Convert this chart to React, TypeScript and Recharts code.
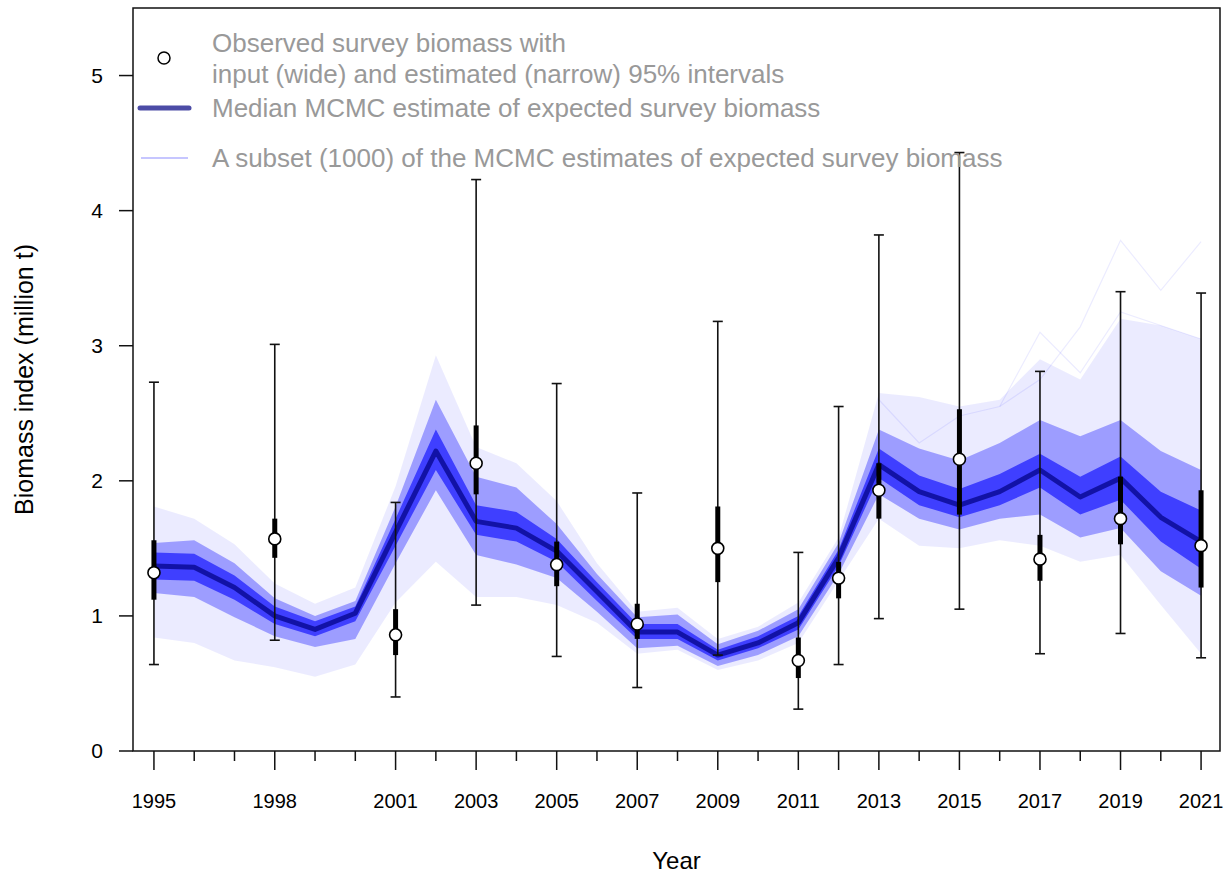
import { ComposedChart, Area, Line, Scatter, ErrorBar, XAxis, YAxis, ReferenceArea, Legend } from 'recharts';

// MCMC estimates of expected survey biomass (million t), one value per year
const YEARS = [1995, 1996, 1997, 1998, 1999, 2000, 2001, 2002, 2003, 2004, 2005, 2006, 2007, 2008, 2009, 2010, 2011, 2012, 2013, 2014, 2015, 2016, 2017, 2018, 2019, 2020, 2021];
const MEDIAN = [1.37, 1.36, 1.21, 1.0, 0.9, 1.02, 1.62, 2.22, 1.7, 1.65, 1.48, 1.18, 0.88, 0.88, 0.71, 0.8, 0.95, 1.43, 2.12, 1.92, 1.82, 1.92, 2.08, 1.88, 2.02, 1.73, 1.55];
// dense core of the trace cloud
const INNER_LO = [1.27, 1.26, 1.12, 0.94, 0.85, 0.96, 1.52, 2.08, 1.6, 1.55, 1.4, 1.11, 0.83, 0.83, 0.67, 0.76, 0.9, 1.37, 2.02, 1.82, 1.73, 1.82, 1.95, 1.75, 1.86, 1.55, 1.35];
const INNER_HI = [1.47, 1.46, 1.3, 1.07, 0.96, 1.07, 1.72, 2.38, 1.82, 1.77, 1.57, 1.25, 0.94, 0.94, 0.75, 0.85, 1.0, 1.49, 2.24, 2.04, 1.94, 2.05, 2.2, 2.03, 2.18, 1.92, 1.78];
// most of the traces
const MID_LO = [1.17, 1.14, 0.99, 0.85, 0.77, 0.83, 1.39, 1.93, 1.45, 1.38, 1.28, 1.03, 0.76, 0.78, 0.63, 0.71, 0.85, 1.31, 1.9, 1.72, 1.64, 1.72, 1.75, 1.58, 1.65, 1.33, 1.15];
const MID_HI = [1.54, 1.56, 1.39, 1.13, 1.0, 1.11, 1.81, 2.6, 2.03, 1.95, 1.68, 1.31, 0.99, 1.01, 0.79, 0.89, 1.05, 1.54, 2.38, 2.24, 2.15, 2.28, 2.45, 2.33, 2.45, 2.22, 2.08];
// faint outer traces
const OUTER_LO = [0.84, 0.8, 0.67, 0.62, 0.55, 0.64, 1.1, 1.4, 1.14, 1.14, 1.08, 0.95, 0.72, 0.75, 0.6, 0.67, 0.8, 1.26, 1.72, 1.52, 1.5, 1.56, 1.52, 1.4, 1.45, 1.08, 0.72];
const OUTER_HI = [1.81, 1.72, 1.53, 1.24, 1.09, 1.21, 1.96, 2.93, 2.25, 2.13, 1.85, 1.39, 1.03, 1.06, 0.83, 0.92, 1.1, 1.58, 2.65, 2.62, 2.55, 2.6, 2.9, 2.75, 3.2, 3.15, 3.05];
// two stray traces visible at the top right
const TRACE_A = [null, null, null, null, null, null, null, null, null, null, null, null, null, null, null, null, null, null, 2.6, 2.28, 2.48, 2.55, 2.75, 3.14, 3.78, 3.41, 3.77];
const TRACE_B = [null, null, null, null, null, null, null, null, null, null, null, null, null, null, null, null, null, null, null, null, null, 2.55, 3.1, 2.8, 3.25, 3.15, 3.05];

// observed survey biomass with 95% intervals
const SURVEY_YEARS = [1995, 1998, 2001, 2003, 2005, 2007, 2009, 2011, 2012, 2013, 2015, 2017, 2019, 2021];
const SURVEY_OBS = [1.32, 1.57, 0.86, 2.13, 1.38, 0.94, 1.5, 0.67, 1.28, 1.93, 2.16, 1.42, 1.72, 1.52];
const WIDE_LO = [0.64, 0.82, 0.4, 1.08, 0.7, 0.47, 0.71, 0.31, 0.64, 0.98, 1.05, 0.72, 0.87, 0.69];
const WIDE_HI = [2.73, 3.01, 1.84, 4.23, 2.72, 1.91, 3.18, 1.47, 2.55, 3.82, 4.43, 2.81, 3.4, 3.39];
const NARROW_LO = [1.12, 1.43, 0.71, 1.9, 1.22, 0.83, 1.25, 0.54, 1.13, 1.72, 1.75, 1.26, 1.53, 1.21];
const NARROW_HI = [1.56, 1.72, 1.05, 2.41, 1.55, 1.09, 1.81, 0.84, 1.4, 2.13, 2.53, 1.6, 2.03, 1.93];

const LABEL_YEARS = [1995, 1998, 2001, 2003, 2005, 2007, 2009, 2011, 2013, 2015, 2017, 2019, 2021];
const Y_TICKS = [0, 1, 2, 3, 4, 5];

const X_DOMAIN = [1994.48, 2021.47];
const Y_DOMAIN = [0, 5.5];

const mcmc = YEARS.map((year, i) => ({
  year,
  median: MEDIAN[i],
  inner: [INNER_LO[i], INNER_HI[i]],
  mid: [MID_LO[i], MID_HI[i]],
  outer: [OUTER_LO[i], OUTER_HI[i]],
  traceA: TRACE_A[i],
  traceB: TRACE_B[i],
}));

const survey = SURVEY_YEARS.map((year, i) => ({
  year,
  obs: SURVEY_OBS[i],
  wideErr: [SURVEY_OBS[i] - WIDE_LO[i], WIDE_HI[i] - SURVEY_OBS[i]],
  narrowErr: [SURVEY_OBS[i] - NARROW_LO[i], NARROW_HI[i] - SURVEY_OBS[i]],
}));

const INK = '#111';

function YearTick({ x, y, payload }: any) {
  const yr = payload.value;
  const long = SURVEY_YEARS.includes(yr);
  return (
    <g>
      <line x1={x} x2={x} y1={y} y2={y + (long ? 19 : 10)} stroke={INK} strokeWidth={1.5} />
      {LABEL_YEARS.includes(yr) && (
        <text x={x} y={y + 57} textAnchor="middle" fontSize={20} fill="#000">{yr}</text>
      )}
    </g>
  );
}

function ValueTick({ x, y, payload }: any) {
  return (
    <g>
      <line x1={x - 14} x2={x} y1={y} y2={y} stroke={INK} strokeWidth={1.5} />
      <text x={x - 30} y={y + 7} textAnchor="end" fontSize={21} fill="#000">{payload.value}</text>
    </g>
  );
}

function LegendBox() {
  const grey = '#999';
  return (
    <svg width={1030} height={180} style={{ display: 'block' }}>
      <circle cx={164} cy={58} r={6} fill="none" stroke="#000" strokeWidth={1.5} />
      <line x1={140} x2={189} y1={108} y2={108} stroke="#000080" strokeOpacity={0.7} strokeWidth={5} strokeLinecap="round" />
      <line x1={141} x2={188} y1={158} y2={158} stroke="#0000ff" strokeOpacity={0.45} strokeWidth={1.2} />
      <g fontSize={26} fill={grey}>
        <text x={212} y={52}>Observed survey biomass with</text>
        <text x={212} y={83}>input (wide) and estimated (narrow) 95% intervals</text>
        <text x={212} y={117}>Median MCMC estimate of expected survey biomass</text>
        <text x={212} y={167}>A subset (1000) of the MCMC estimates of expected survey biomass</text>
      </g>
    </svg>
  );
}

export default function App() {
  return (
    <div style={{ position: 'absolute', left: 0, top: 0, fontFamily: '"Liberation Sans", Arial, sans-serif' }}>
      <ComposedChart width={1229} height={875} data={mcmc} margin={{ top: 8, right: 9, bottom: 0, left: 0 }}>
        <XAxis
          dataKey="year"
          type="number"
          domain={X_DOMAIN}
          allowDataOverflow
          ticks={YEARS}
          interval={0}
          tick={<YearTick />}
          tickSize={0}
          tickMargin={0}
          axisLine={false}
          tickLine={false}
          height={124}
          label={{ value: 'Year', position: 'insideBottom', offset: 6, fontSize: 24, fill: '#000' }}
        />
        <YAxis
          type="number"
          domain={Y_DOMAIN}
          allowDataOverflow
          ticks={Y_TICKS}
          interval={0}
          tick={<ValueTick />}
          tickSize={0}
          tickMargin={0}
          axisLine={false}
          tickLine={false}
          width={133}
          label={{ value: 'Biomass index (million t)', angle: -90, position: 'insideLeft', offset: 24, fontSize: 25, fill: '#000', style: { textAnchor: 'middle' } }}
        />
        <Legend
          content={<LegendBox />}
          layout="vertical"
          align="center"
          verticalAlign="middle"
          wrapperStyle={{ left: 0, top: 0, width: 1030, height: 180 }}
        />
        <Area dataKey="outer" type="linear" stroke="none" fill="#0000ff" fillOpacity={0.08} isAnimationActive={false} dot={false} activeDot={false} legendType="none" />
        <Area dataKey="mid" type="linear" stroke="none" fill="#0000ff" fillOpacity={0.33} isAnimationActive={false} dot={false} activeDot={false} legendType="none" />
        <Area dataKey="inner" type="linear" stroke="none" fill="#0000ff" fillOpacity={0.6} isAnimationActive={false} dot={false} activeDot={false} legendType="none" />
        <Line dataKey="traceA" type="linear" stroke="#0000ff" strokeOpacity={0.08} strokeWidth={1.2} dot={false} activeDot={false} isAnimationActive={false} legendType="none" />
        <Line dataKey="traceB" type="linear" stroke="#0000ff" strokeOpacity={0.08} strokeWidth={1.2} dot={false} activeDot={false} isAnimationActive={false} legendType="none" />
        <Line dataKey="median" type="linear" stroke="#000080" strokeOpacity={0.7} strokeWidth={5} strokeLinejoin="round" dot={false} activeDot={false} isAnimationActive={false} legendType="none" />
        <Scatter data={survey} dataKey="obs" shape={() => <g />} isAnimationActive={false} legendType="none">
          <ErrorBar dataKey="wideErr" direction="y" width={5} stroke={INK} strokeWidth={1.6} isAnimationActive={false} />
        </Scatter>
        <Scatter
          data={survey}
          dataKey="obs"
          isAnimationActive={false}
          legendType="none"
          shape={(p: any) => <circle cx={p.cx} cy={p.cy} r={6} fill="#fff" stroke="#000" strokeWidth={1.6} />}
        >
          <ErrorBar dataKey="narrowErr" direction="y" width={0} stroke="#000" strokeWidth={5} isAnimationActive={false} />
        </Scatter>
        <ReferenceArea x1={X_DOMAIN[0]} x2={X_DOMAIN[1]} y1={Y_DOMAIN[0]} y2={Y_DOMAIN[1]} fill="none" stroke={INK} strokeWidth={1.5} ifOverflow="visible" />
      </ComposedChart>
    </div>
  );
}
